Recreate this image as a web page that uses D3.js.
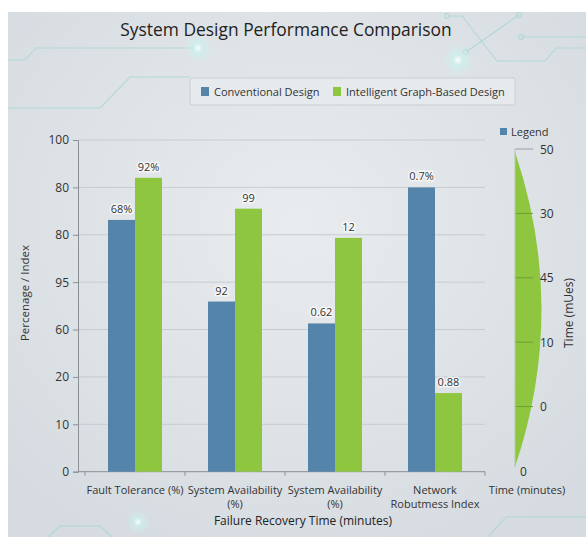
<!DOCTYPE html>
<html>
<head>
<meta charset="utf-8">
<script src="https://cdn.jsdelivr.net/npm/d3@7/dist/d3.min.js"></script>
<style>
  html, body { margin: 0; padding: 0; background: #ffffff; }
  svg { display: block; font-family: "Open Sans", "Noto Sans", sans-serif; }
</style>
</head>
<body>
<svg id="chart" width="586" height="537"></svg>
<script>
// ---- data ----
const title = "System Design Performance Comparison";
const categories = [["Fault Tolerance (%)"], ["System Availability", "(%)"], ["System Availability", "(%)"], ["Network", "Robutmess Index"]];
const seriesNames = ["Conventional Design", "Intelligent Graph-Based Design"];
const conventional = [75.9, 51.3, 44.7, 85.7];
const intelligent = [88.6, 79.3, 70.5, 23.7];
const conventionalLabels = ["68%", "92", "0.62", "0.7%"];
const intelligentLabels = ["92%", "99", "12", "0.88"];
const yTickLabels = ["0", "10", "20", "60", "95", "80", "80", "100"];
const rightTickLabels = ["0", "0", "10", "45", "30", "50"];
const xTitle = "Failure Recovery Time (minutes)";
const yTitle = "Percenage / Index";
const rightTitle = "Time (mUes)";
const rightBottomLabel = "Time (minutes)";
const legendSide = "Legend";

const colors = ["#5484a9", "#8fc640"];

const svg = d3.select("#chart");
const defs = svg.append("defs");

// background
const bg = defs.append("radialGradient").attr("id", "bg").attr("cx", "50%").attr("cy", "40%").attr("r", "70%");
bg.append("stop").attr("offset", "0%").attr("stop-color", "#e9ecee");
bg.append("stop").attr("offset", "100%").attr("stop-color", "#d5dbe0");
const glow = defs.append("radialGradient").attr("id", "glow");
glow.append("stop").attr("offset", "0%").attr("stop-color", "#ffffff").attr("stop-opacity", 0.95);
glow.append("stop").attr("offset", "35%").attr("stop-color", "#c8f4ee").attr("stop-opacity", 0.6);
glow.append("stop").attr("offset", "100%").attr("stop-color", "#c8f4ee").attr("stop-opacity", 0);

svg.append("rect").attr("x", 8).attr("y", 12).attr("width", 578).attr("height", 525).attr("fill", "url(#bg)");

// decorative circuit lines
const deco = svg.append("g").attr("fill", "none").attr("stroke", "#a5d6d2").attr("stroke-width", 1.1).attr("opacity", 0.75);
const decoPaths = [
  [[8, 60], [25, 60], [36, 48], [196, 48]],
  [[8, 108], [100, 108], [130, 77], [190, 77]],
  [[447, 16], [462, 16], [497, 61], [545, 61], [556, 48], [586, 48]],
  [[519, 15], [466, 52]],
  [[521, 37], [586, 37]],
  [[48, 537], [60, 526], [100, 526], [112, 537]],
  [[488, 537], [506, 517], [586, 517]]
];
decoPaths.forEach(p => deco.append("path").attr("d", d3.line()(p)));
[[447, 16], [519, 15], [466, 52], [521, 37]].forEach(c =>
  deco.append("circle").attr("cx", c[0]).attr("cy", c[1]).attr("r", 2.5));
[[198, 48, 14], [458, 60, 16], [138, 522, 12]].forEach(g =>
  svg.append("circle").attr("cx", g[0]).attr("cy", g[1]).attr("r", g[2]).attr("fill", "url(#glow)"));

// title
svg.append("text").attr("x", 286).attr("y", 36).attr("text-anchor", "middle")
  .attr("font-size", 17.4).attr("fill", "#222").text(title);

// legend box
const lg = svg.append("g");
lg.append("rect").attr("x", 190).attr("y", 78).attr("width", 325).attr("height", 27).attr("rx", 2)
  .attr("fill", "#e6eaec").attr("stroke", "#c9cfd3");
const legendX = [201, 333];
seriesNames.forEach((s, i) => {
  lg.append("rect").attr("x", legendX[i]).attr("y", 87).attr("width", 8).attr("height", 9).attr("fill", colors[i]);
  lg.append("text").attr("x", legendX[i] + 13).attr("y", 95.5).attr("font-size", 11).attr("fill", "#333").text(s);
});

// scales
const y = d3.scaleLinear().domain([0, 100]).range([471.7, 140]);
const x = d3.scaleBand().domain(d3.range(categories.length)).range([85, 485]);
const xs = d3.scaleBand().domain([0, 1]).range([23, 77]);
const yTicks = d3.range(yTickLabels.length).map(i => i * 100 / (yTickLabels.length - 1));

// gridlines
svg.append("g").selectAll("line").data(yTicks.slice(1)).join("line")
  .attr("x1", 78).attr("x2", 485).attr("y1", d => y(d)).attr("y2", d => y(d))
  .attr("stroke", "#c6ccd1").attr("stroke-width", 1);

// y axis
const yAxis = svg.append("g").attr("transform", "translate(78,0)")
  .call(d3.axisLeft(y).tickValues(yTicks).tickSize(5).tickPadding(4).tickFormat((d, i) => yTickLabels[i]));
yAxis.select(".domain").attr("stroke", "#8a8f94");
yAxis.selectAll(".tick line").attr("stroke", "#8a8f94");
yAxis.selectAll("text").attr("font-size", 12).attr("fill", "#333").attr("font-family", "Open Sans");

// x axis
const xAxisG = svg.append("g").attr("transform", `translate(0,${y(0)})`);
xAxisG.append("line").attr("x1", 78).attr("x2", 485).attr("stroke", "#8a8f94");
const bounds = d3.range(categories.length + 1).map(i => i < categories.length ? x(i) : x(i - 1) + x.bandwidth());
xAxisG.selectAll(".xt").data(bounds).join("line").attr("class", "xt")
  .attr("x1", d => d).attr("x2", d => d).attr("y1", 0).attr("y2", 4).attr("stroke", "#8a8f94");
categories.forEach((lines, i) => {
  lines.forEach((ln, k) => {
    xAxisG.append("text").attr("text-anchor", "middle").attr("font-size", 11).attr("fill", "#333")
      .attr("x", x(i) + x.bandwidth() / 2).attr("y", 22 + k * 14.6).text(ln);
  });
});

// bars
const series = [conventional, intelligent];
const seriesLabels = [conventionalLabels, intelligentLabels];
series.forEach((vals, si) => {
  svg.append("g").selectAll("rect").data(vals).join("rect")
    .attr("x", (d, i) => x(i) + xs(si)).attr("width", xs.bandwidth())
    .attr("y", d => y(d)).attr("height", d => y(0) - y(d)).attr("fill", colors[si]);
  svg.append("g").selectAll("text").data(vals).join("text")
    .attr("x", (d, i) => x(i) + xs(si) + xs.bandwidth() / 2).attr("y", d => y(d) - 7)
    .attr("text-anchor", "middle").attr("font-size", 11).attr("fill", "#333")
    .attr("stroke", "#ffffff").attr("stroke-width", 3).attr("stroke-opacity", 0.7)
    .attr("paint-order", "stroke").attr("stroke-linejoin", "round")
    .text((d, i) => seriesLabels[si][i]);
});

// axis titles
svg.append("text").attr("x", 303).attr("y", 525).attr("text-anchor", "middle")
  .attr("font-size", 12).attr("fill", "#222").text(xTitle);
svg.append("text").attr("transform", "translate(29,293) rotate(-90)").attr("text-anchor", "middle")
  .attr("font-size", 11.5).attr("fill", "#333").text(yTitle);

// right side gauge
const yr = d3.scaleLinear().domain([0, rightTickLabels.length - 1]).range([471, 149]);
const gTop = yr(rightTickLabels.length - 1) + 3, gBot = yr(0) - 4;
const gx = 515;
svg.append("path")
  .attr("d", `M${gx},${gTop} Q${gx + 53},${(gTop + gBot) / 2} ${gx},${gBot} Z`)
  .attr("fill", "#8fc640");
const rTicks = d3.range(rightTickLabels.length);
svg.append("g").selectAll("line").data(rTicks.slice(1, -1)).join("line")
  .attr("x1", gx).attr("x2", gx + 18).attr("y1", d => yr(d)).attr("y2", d => yr(d))
  .attr("stroke", "#6e9e35").attr("stroke-width", 1);
svg.append("line").attr("x1", gx).attr("x2", gx + 18).attr("y1", yr(rTicks.length - 1)).attr("y2", yr(rTicks.length - 1))
  .attr("stroke", "#9a9fa3");
svg.append("line").attr("x1", gx).attr("x2", gx).attr("y1", yr(rTicks.length - 1)).attr("y2", gBot)
  .attr("stroke", "#b6c9a2").attr("stroke-width", 1);
svg.append("g").selectAll("text").data(rTicks).join("text")
  .attr("x", d => d === 0 ? gx + 5 : gx + 25).attr("y", d => yr(d) + 4.5)
  .attr("font-size", 12).attr("fill", "#333").text(d => rightTickLabels[d]);
svg.append("text").attr("transform", "translate(573,313) rotate(-90)").attr("text-anchor", "middle")
  .attr("font-size", 12).attr("fill", "#333").text(rightTitle);
svg.append("rect").attr("x", 500).attr("y", 128).attr("width", 7).attr("height", 7).attr("fill", colors[0]);
svg.append("text").attr("x", 511).attr("y", 136).attr("font-size", 11).attr("fill", "#333").text(legendSide);
svg.append("text").attr("x", 527).attr("y", 494).attr("text-anchor", "middle")
  .attr("font-size", 11).attr("fill", "#333").text(rightBottomLabel);
</script>
</body>
</html>
